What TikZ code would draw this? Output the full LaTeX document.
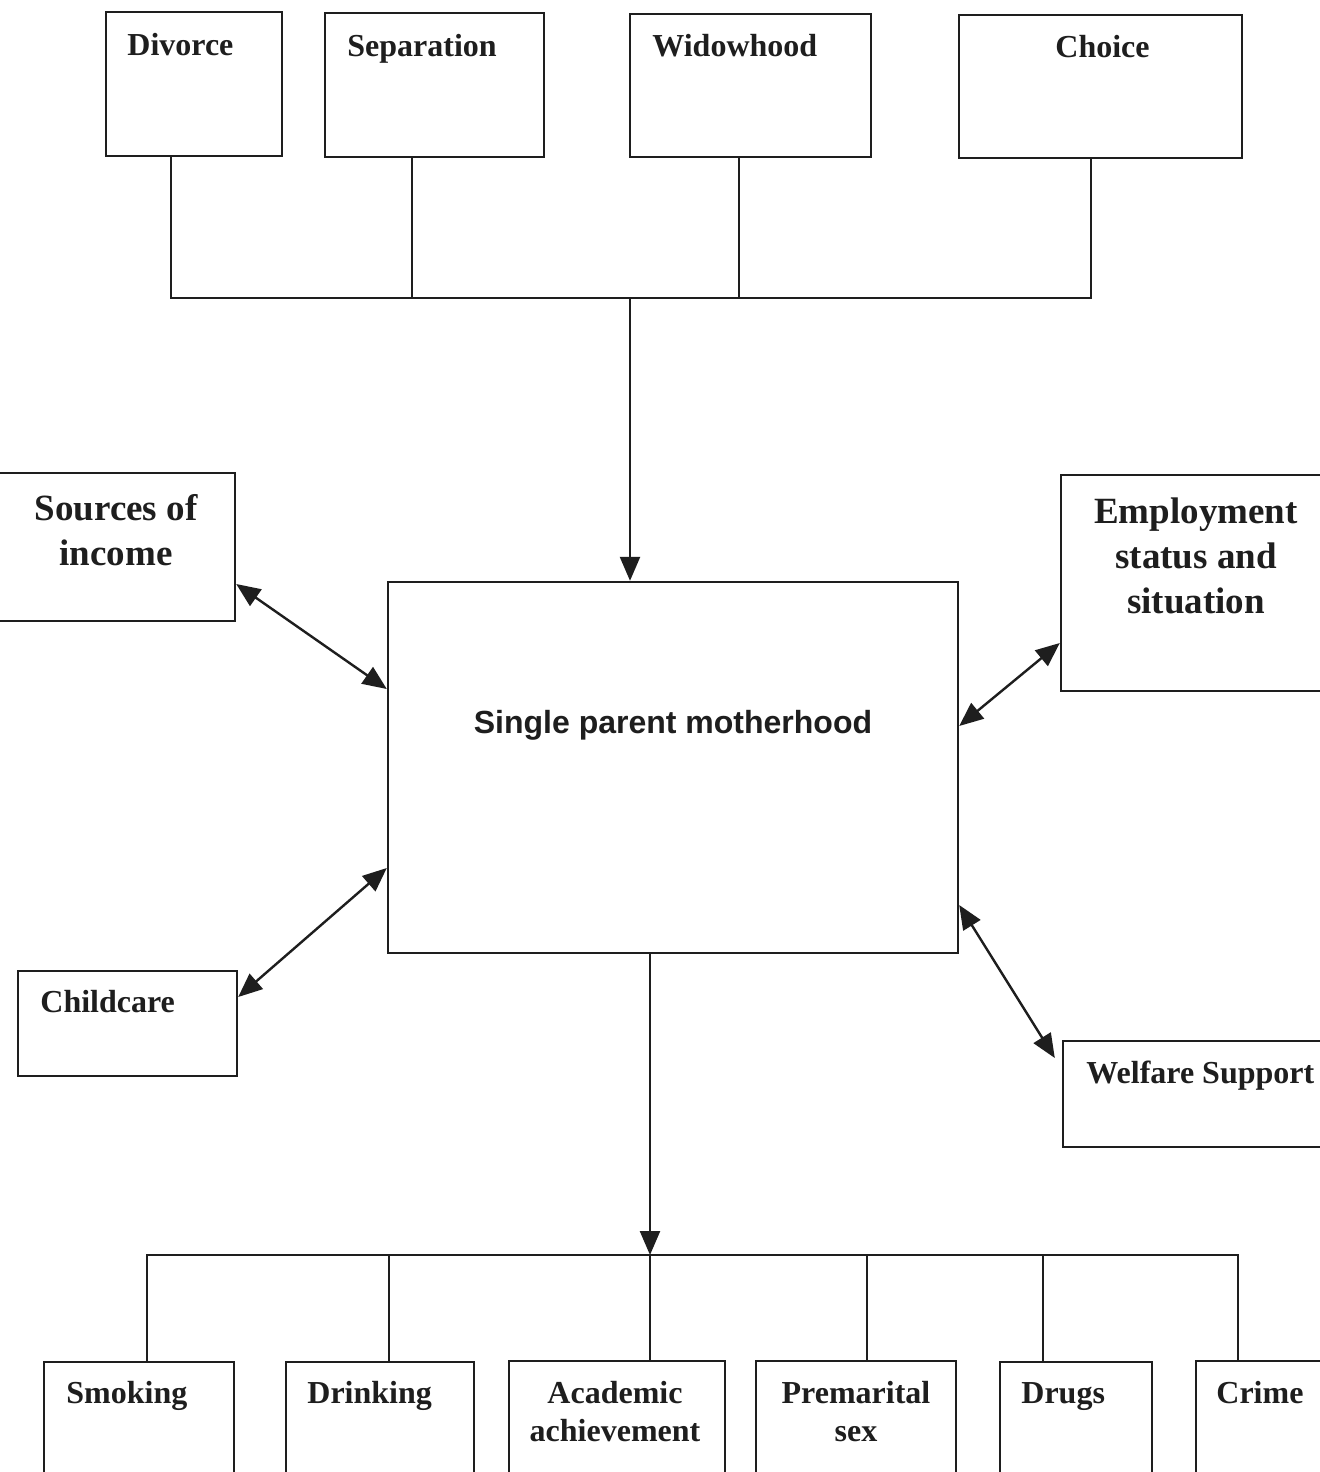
\documentclass[tikz,border=0pt]{standalone}
\usepackage{fontspec}
\setmainfont{Liberation Serif}
\newfontfamily\arialf{Liberation Sans}
\usetikzlibrary{arrows.meta,fit}
\definecolor{ink}{HTML}{1E1E1E}
\begin{document}
\begin{tikzpicture}[x=0.5pt,y=-0.5pt,
 box/.style={draw=ink, line width=1.2pt, inner sep=0pt},
 lbl/.style={text=ink, font=\bfseries\fontsize{16}{19}\selectfont, inner sep=0pt},
 lbltwo/.style={text=ink, font=\bfseries\fontsize{16}{19}\selectfont, inner sep=0pt, align=center, anchor=north},
 big/.style={text=ink, font=\bfseries\fontsize{18.5}{22.5}\selectfont, inner sep=0pt, align=center, anchor=north},
 conn/.style={line width=1.2pt, draw=ink},
 dbl/.style={conn, {Triangle[length=12pt,width=10pt]}-{Triangle[length=12pt,width=10pt]}},
 one/.style={conn, -{Triangle[length=12pt,width=10pt]}}]
\useasboundingbox (0,0) rectangle (1320,1472);
\fill[white] (0,0) rectangle (1320,1472);
\clip (0,0) rectangle (1320,1472);

% top boxes
\node[box, fit={(106,12) (282,156)}] (div) {};
\node[lbl, anchor=base west] (tdiv) at (127,55) {Divorce};
\node[box, fit={(325,13) (544,157)}] (sep) {};
\node[lbl, anchor=base west] (tsep) at (347,56) {Separation};
\node[box, fit={(630,14) (871,157)}] (wid) {};
\node[lbl, anchor=base west] (twid) at (652,56) {Widowhood};
\node[box, fit={(959,15) (1242,158)}] (cho) {};
\node[lbl, anchor=base west] (tcho) at (1055,57) {Choice};

% side boxes
\node[box, fit={(-10,473) (235,621)}] (src) {};
\node[big] (tsrc) at (116,494) {Sources of\\income};
\node[box, fit={(1061,475) (1340,691)}] (emp) {};
\node[big] (temp) at (1196,497) {Employment\\status and\\situation};
\node[box, fit={(18,971) (237,1076)}] (chc) {};
\node[lbl, anchor=base west] (tchc) at (40,1012) {Childcare};
\node[box, fit={(1063,1041) (1340,1147)}] (wel) {};
\node[lbl, anchor=base west] (twel) at (1086,1083) {Welfare Support};

% centre
\node[box, fit={(388,582) (958,953)}] (ctr) {};
\node[text=ink, font=\arialf\bfseries\fontsize{16}{19}\selectfont, inner sep=0pt, anchor=base] (tctr) at (673,733) {Single parent motherhood};

% bottom boxes
\node[box, fit={(44,1362) (234,1490)}] (smk) {};
\node[lbl, anchor=base west] (tsmk) at (66,1403) {Smoking};
\node[box, fit={(286,1362) (474,1490)}] (drk) {};
\node[lbl, anchor=base west] (tdrk) at (307,1403) {Drinking};
\node[box, fit={(509,1361) (725,1490)}] (aca) {};
\node[lbltwo] (taca) at (615,1381) {Academic\\achievement};
\node[box, fit={(756,1361) (956,1490)}] (pre) {};
\node[lbltwo] (tpre) at (856,1381) {Premarital\\sex};
\node[box, fit={(1000,1362) (1152,1490)}] (drg) {};
\node[lbl, anchor=base west] (tdrg) at (1021,1403) {Drugs};
\node[box, fit={(1196,1361) (1340,1490)}] (crm) {};
\node[lbl, anchor=base west] (tcrm) at (1216,1403) {Crime};

% top bus
\coordinate (tb1) at (171,298);
\coordinate (tb2) at (412,298);
\coordinate (tb3) at (739,298);
\coordinate (tb4) at (1091,298);
\coordinate (tbc) at (630,298);
\draw[conn] (tb1 |- div.south) -- (tb1) -- (tb4) -- (tb4 |- cho.south);
\draw[conn] (tb2 |- sep.south) -- (tb2);
\draw[conn] (tb3 |- wid.south) -- (tb3);
\draw[one] (tbc) -- (tbc |- ctr.north);

% bottom bus
\coordinate (bb1) at (147,1255);
\coordinate (bb2) at (389,1255);
\coordinate (bbc) at (650,1255);
\coordinate (bb4) at (867,1255);
\coordinate (bb5) at (1043,1255);
\coordinate (bb6) at (1238,1255);
\draw[one] (bbc |- ctr.south) -- (bbc);
\draw[conn] (bb1 |- smk.north) -- (bb1) -- (bb6) -- (bb6 |- crm.north);
\draw[conn] (bb2) -- (bb2 |- drk.north);
\draw[conn] (bbc) -- (bbc |- aca.north);
\draw[conn] (bb4) -- (bb4 |- pre.north);
\draw[conn] (bb5) -- (bb5 |- drg.north);

% side arrows
\draw[dbl] (src.east |- 0,584) -- (ctr.west |- 0,689);
\draw[dbl] (chc.east |- 0,997) -- (ctr.west |- 0,868);
\draw[dbl] (ctr.east |- 0,726) -- (emp.west |- 0,643);
\draw[dbl] (ctr.east |- 0,905) -- ([xshift=-3.5pt]wel.west |- 0,1058);
\end{tikzpicture}
\end{document}
